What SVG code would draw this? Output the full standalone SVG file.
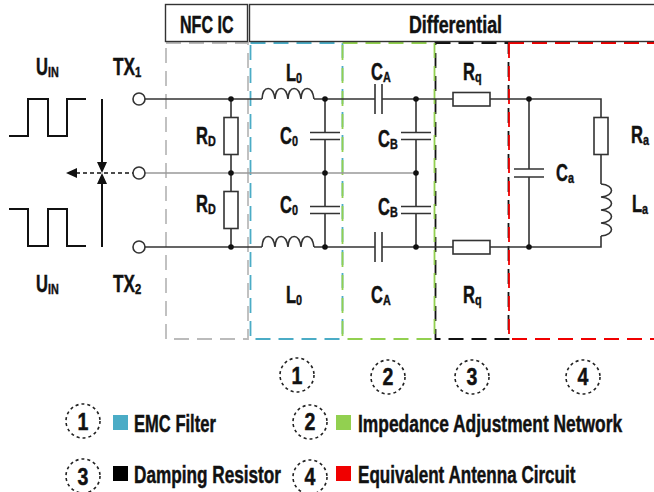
<svg xmlns="http://www.w3.org/2000/svg" width="654" height="492" viewBox="0 0 654 492">
<style>
text{font-family:"Liberation Sans",Arial,sans-serif;font-weight:bold;fill:#111;stroke:#111;stroke-width:.45;font-size:23px}
tspan.s{font-size:15px}
.w{fill:none;stroke:#333;stroke-width:1.6}
.m{fill:none;stroke:#999;stroke-width:1.6}
.r{fill:#fff;stroke:#333;stroke-width:1.6}
.d{fill:#111}
.k{fill:none;stroke:#111;stroke-width:2}
.z{fill:none;stroke-width:1.8;stroke-dasharray:15 8}
.n{fill:#fff;stroke:#222;stroke-width:1.6;stroke-dasharray:3 3}
.t{fill:#fff;stroke:#333;stroke-width:1.6}
.h{fill:#fff;stroke:#333;stroke-width:1.4}
</style>
<g id="regions">
<rect class="z" x="166" y="43" width="82" height="296" stroke="#bbb"/>
<rect class="z" x="250.500" y="43" width="92" height="296" stroke="#4bacc6"/>
<rect class="z" x="435.500" y="43" width="73" height="296" stroke="#111"/>
<rect class="z" x="342.500" y="43" width="92" height="296" stroke="#92d050"/>
<rect class="z" x="509" y="43" width="160" height="296" stroke="#f00000"/>
</g>
<g id="connectors">
<path class="m" d="M145 173H416"/>
<path class="w" d="M145 99H262M314 99H375M382 99H453M490 99H601V117M601 154V184M601 236V247H490M453 247H382M375 247H314M262 247H145"/>
<path class="w" d="M231 99V117M231 154V191M231 228V247"/>
<path class="w" d="M325 99V132M325 140V207M325 214V247"/>
<path class="w" d="M416 99V132M416 140V207M416 214V247"/>
<path class="w" d="M529 99V169M529 177V247"/>
<path class="k" d="M9 136H28V99H48V136H67V99H86M9 209H28V246H48V209H67V246H86"/>
<path class="k" d="M102 99V165M102 181V247"/>
<path d="M66 173L77 168V178Z" class="d"/>
<path d="M97 162H107L102 173ZM97 184H107L102 173Z" class="d"/>
<path class="k" stroke-dasharray="4 3" d="M76 173H133" style="stroke-width:1.6"/>
</g>
<g id="header-nfc"><rect class="h" x="165.500" y="4.500" width="82" height="37"/><text transform="translate(180 33) scale(.70 1)">NFC IC</text></g>
<g id="header-differential"><rect class="h" x="249.500" y="4.500" width="420" height="37"/><text transform="translate(409 33) scale(.775 1)">Differential</text></g>
<g id="uin1"><text transform="translate(36 75) scale(.72 1)">U<tspan class="s" dy="2">IN</tspan></text></g>
<g id="uin2"><text transform="translate(36 292) scale(.72 1)">U<tspan class="s" dy="2">IN</tspan></text></g>
<g id="tx1"><circle class="t" cx="139" cy="99" r="6"/><text transform="translate(113 75) scale(.75 1)">TX<tspan class="s" dy="2">1</tspan></text></g>
<g id="mid"><circle class="t" cx="139" cy="173" r="6"/></g>
<g id="tx2"><circle class="t" cx="139" cy="247" r="6"/><text transform="translate(113 292) scale(.75 1)">TX<tspan class="s" dy="2">2</tspan></text></g>
<g id="rd1"><rect class="r" x="224" y="117.500" width="14" height="37"/><text transform="translate(196 144) scale(.72 1)">R<tspan class="s" dy="2">D</tspan></text></g>
<g id="rd2"><rect class="r" x="224" y="191.500" width="14" height="37"/><text transform="translate(196 212) scale(.72 1)">R<tspan class="s" dy="2">D</tspan></text></g>
<g id="l01"><path class="w" d="M262 99c1-14 11-14 13 0c1-14 11-14 13 0c1-14 11-14 13 0c1-14 11-14 13 0"/><text transform="translate(286 81) scale(.72 1)">L<tspan class="s" dy="2">0</tspan></text></g>
<g id="l02"><path class="w" d="M262 247c1-14 11-14 13 0c1-14 11-14 13 0c1-14 11-14 13 0c1-14 11-14 13 0"/><text transform="translate(286 303) scale(.72 1)">L<tspan class="s" dy="2">0</tspan></text></g>
<g id="c01"><path class="w" d="M310 132.500H340M310 139.500H340"/><text transform="translate(280 144) scale(.72 1)">C<tspan class="s" dy="2">0</tspan></text></g>
<g id="c02"><path class="w" d="M310 206.500H340M310 213.500H340"/><text transform="translate(280 213) scale(.72 1)">C<tspan class="s" dy="2">0</tspan></text></g>
<g id="ca1"><path class="w" d="M375 84V114M382 84V114"/><text transform="translate(371 80) scale(.72 1)">C<tspan class="s" dy="2">A</tspan></text></g>
<g id="ca2"><path class="w" d="M375 232V262M382 232V262"/><text transform="translate(371 303) scale(.72 1)">C<tspan class="s" dy="2">A</tspan></text></g>
<g id="cb1"><path class="w" d="M401 132.500H431M401 139.500H431"/><text transform="translate(378 147) scale(.72 1)">C<tspan class="s" dy="2">B</tspan></text></g>
<g id="cb2"><path class="w" d="M401 206.500H431M401 213.500H431"/><text transform="translate(378 215) scale(.72 1)">C<tspan class="s" dy="2">B</tspan></text></g>
<g id="rq1"><rect class="r" x="453" y="92.500" width="37" height="13.500"/><text transform="translate(463 80) scale(.72 1)">R<tspan class="s" dy="2">q</tspan></text></g>
<g id="rq2"><rect class="r" x="453" y="240.500" width="37" height="13.500"/><text transform="translate(463 303) scale(.72 1)">R<tspan class="s" dy="2">q</tspan></text></g>
<g id="ca"><path class="w" d="M514 169H544M514 177H544"/><text transform="translate(556 181) scale(.72 1)">C<tspan class="s" dy="2">a</tspan></text></g>
<g id="ra"><rect class="r" x="594" y="117.500" width="14" height="37"/><text transform="translate(631 143) scale(.72 1)">R<tspan class="s" dy="2">a</tspan></text></g>
<g id="la"><path class="w" d="M601 184c14 1 14 12 0 13c14 1 14 12 0 13c14 1 14 12 0 13c14 1 14 12 0 13"/><text transform="translate(632 212) scale(.72 1)">L<tspan class="s" dy="2">a</tspan></text></g>
<g id="junctions">
<circle class="d" cx="231" cy="99" r="2.800"/><circle class="d" cx="325" cy="99" r="2.800"/><circle class="d" cx="416" cy="99" r="2.800"/><circle class="d" cx="529" cy="99" r="2.800"/>
<circle class="d" cx="231" cy="173" r="2.800"/><circle class="d" cx="325" cy="173" r="2.800"/><circle class="d" cx="416" cy="173" r="2.800"/>
<circle class="d" cx="231" cy="247" r="2.800"/><circle class="d" cx="325" cy="247" r="2.800"/><circle class="d" cx="416" cy="247" r="2.800"/><circle class="d" cx="529" cy="247" r="2.800"/>
</g>
<g id="tag1"><circle class="n" cx="297" cy="375" r="17"/><text transform="translate(297 384) scale(.85 1)" text-anchor="middle">1</text></g>
<g id="tag2"><circle class="n" cx="388" cy="377" r="17"/><text transform="translate(388 385) scale(.85 1)" text-anchor="middle">2</text></g>
<g id="tag3"><circle class="n" cx="472" cy="377" r="17"/><text transform="translate(472 385) scale(.85 1)" text-anchor="middle">3</text></g>
<g id="tag4"><circle class="n" cx="583" cy="377" r="17"/><text transform="translate(583 385) scale(.85 1)" text-anchor="middle">4</text></g>
<g id="legend1"><circle class="n" cx="83" cy="421" r="17"/><text transform="translate(83 430) scale(.85 1)" text-anchor="middle">1</text><rect x="113" y="415" width="15" height="15" fill="#4bacc6"/><text transform="translate(134 432) scale(.72 1)">EMC Filter</text></g>
<g id="legend2"><circle class="n" cx="310" cy="422" r="17"/><text transform="translate(310 430) scale(.85 1)" text-anchor="middle">2</text><rect x="336" y="415" width="15" height="15" fill="#92d050"/><text transform="translate(358 432) scale(.757 1)">Impedance Adjustment Network</text></g>
<g id="legend3"><circle class="n" cx="83" cy="476" r="17"/><text transform="translate(83 485) scale(.85 1)" text-anchor="middle">3</text><rect x="113" y="466" width="15" height="15" fill="#000"/><text transform="translate(134 483) scale(.747 1)">Damping Resistor</text></g>
<g id="legend4"><circle class="n" cx="310" cy="477" r="17"/><text transform="translate(310 485) scale(.85 1)" text-anchor="middle">4</text><rect x="336" y="466" width="15" height="15" fill="#f00000"/><text transform="translate(358 483) scale(.742 1)">Equivalent Antenna Circuit</text></g>
</svg>
